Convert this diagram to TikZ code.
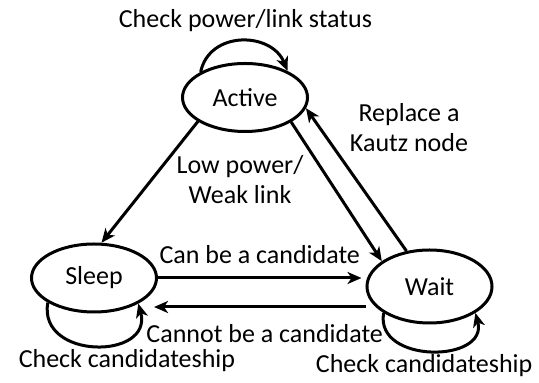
\documentclass[tikz,border=0pt]{standalone}
\usepackage{fontspec}
\setmainfont{Carlito}
\usetikzlibrary{positioning,shapes.geometric,arrows.meta}

\tikzset{
    statenode/.style={draw, ellipse, line width=1.5pt, minimum width=62.5pt, minimum height=34pt, inner sep=0pt},
    transarrow/.style={line width=1.5pt, -{Stealth[length=7pt,width=6pt,inset=2pt]}},
}

\begin{document}
\begin{tikzpicture}[font=\fontsize{13}{15}\selectfont]
                \useasboundingbox (-122.5pt,-142.75pt) rectangle ++(269.5pt,191.5pt);

                \node [statenode] (active) {Active};
                \node [statenode, on grid, below left=90.25pt and 75.5pt of active] (sleep) {Sleep};
                \node [statenode, minimum height=36.5pt, on grid, below right=94.5pt and 92.25pt of active] (wait) {Wait};
                \node [align=center, on grid, below left=41.25pt and 2.5pt of active] (lowpower) {Low power/\\Weak link};
                \node [align=center, on grid, below right=15.25pt and 82pt of active] (kautz) {Replace a\\Kautz node};

                \draw [transarrow] (active.150) to [out=78, in=112, looseness=1.25]
                    node [above=0.8pt, xshift=2pt] (checkpower) {Check power/link status} (active.32);
                \draw [transarrow] (active.207) -- (sleep.78);
                \draw [transarrow] (active.332) -- (wait.152);
                \draw [transarrow] (wait.123) -- (active.350);
                \draw [transarrow] (sleep.east) -- ([xshift=-2pt, yshift=4.25pt]wait.west)
                    node [midway, above=3.3pt] (canbe) {Can be a candidate};
                \draw [transarrow] ([yshift=-10.25pt]wait.west) -- ([xshift=-2pt, yshift=-14.5pt]sleep.east)
                    node [midway, below=4.8pt, xshift=2.5pt] (cannotbe) {Cannot be a candidate};
                \draw [transarrow] (sleep.208) to [out=-100, in=-75, looseness=1.65]
                    node [below=-2.5pt, xshift=16pt] (checksleep) {Check candidateship} (sleep.330);
                \draw [transarrow] (wait.210) to [out=-100, in=-75, looseness=1.45]
                    node [below=-2.5pt, xshift=-3.5pt] (checkwait) {Check candidateship} (wait.330);
\end{tikzpicture}
\end{document}
